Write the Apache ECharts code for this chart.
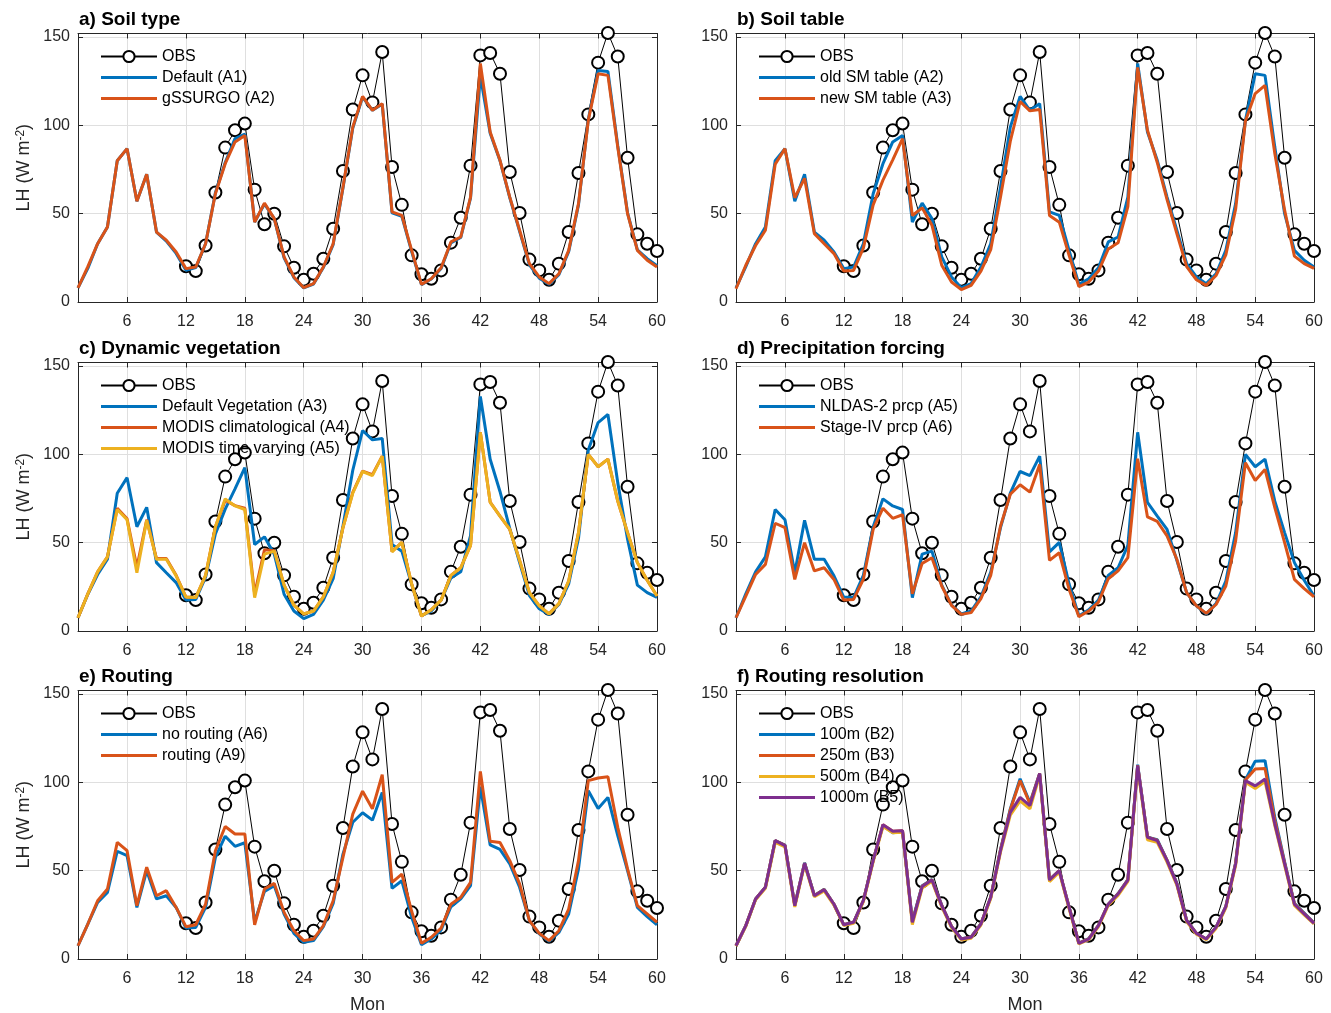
<!DOCTYPE html>
<html>
<head>
<meta charset="utf-8">
<script src="https://cdn.jsdelivr.net/npm/echarts@6/dist/echarts.min.js"></script>
<style>
  html, body { margin: 0; padding: 0; background: #fff; }
  #chart { width: 1331px; height: 1013px; }
</style>
</head>
<body>
<div id="chart"></div>
<script>
// months 1..60 on the x axis
const months = [];
for (let m = 1; m <= 60; m++) months.push(String(m));
const xTicks = [6, 12, 18, 24, 30, 36, 42, 48, 54, 60];
const yTicks = [0, 50, 100, 150];

// observations start at month 12
const OBS = [null, null, null, null, null, null, null, null, null, null,
  null, 20.2, 17.5, 32, 62, 87.4, 97.2, 101, 63.6, 44,
  50, 31.5, 19.4, 12.6, 16, 24.5, 41.5, 74.2, 109, 128.3,
  113, 141.5, 76.4, 55, 26.4, 15.7, 13.2, 17.9, 33.6, 47.7,
  77.2, 139.6, 141, 129.2, 73.6, 50.4, 24, 17.9, 12.6, 21.7,
  39.6, 73, 106.2, 135.5, 152.3, 139, 81.7, 38.3, 33, 28.9];

const A1 = [8, 19, 33, 42.5, 80, 86.8, 57, 72.3, 39.6, 34.5,
  27.5, 18, 19.5, 33, 61.8, 79, 92.5, 95, 45.3, 55.5,
  47.2, 25, 13.8, 8, 10.2, 19.5, 32.5, 64.5, 98.5, 116,
  108.5, 112, 50.5, 48.5, 28.5, 9.8, 13, 19, 33.5, 36.5,
  59, 128, 95.5, 80, 59, 40, 21, 13.5, 10, 15.5,
  28.5, 55, 103.5, 131, 130.5, 88.5, 50.5, 29.5, 24.5, 20.5];

const A2 = [8, 20, 33, 42.5, 80, 86.8, 57, 72.3, 39.6, 35,
  28.3, 18.9, 19.8, 33, 61.3, 78.3, 90.6, 94.3, 45.3, 56,
  47.2, 25.5, 14.2, 8.1, 10.4, 19.8, 33, 65, 99, 116.4,
  108.5, 112.3, 51, 49, 29.2, 10, 13.2, 19.4, 34, 36.8,
  59.4, 135, 96.2, 80.2, 59.4, 40.6, 21.7, 14.2, 10.4, 16,
  29.2, 55.7, 102.8, 129.2, 128.3, 87.7, 50, 29.2, 23.6, 19.8];

const A3 = [7.5, 20.8, 32, 40.6, 78, 86.8, 59, 70, 38.7, 33,
  27.4, 17.5, 17.9, 30.5, 55, 69, 80.5, 92.5, 49, 53.3,
  43.5, 20.8, 11.3, 7, 9.4, 17.5, 29.6, 59.4, 91, 113.5,
  108.2, 109, 49, 45.2, 26.4, 8.7, 11.3, 17.5, 30, 33.5,
  54, 132.8, 97.2, 79, 58, 38.7, 20, 12.6, 9.4, 15,
  26.7, 52.5, 102.5, 118, 122.6, 84, 52, 26, 21.7, 19];

const A4 = [7.5, 21, 33.5, 42, 69.5, 63.5, 36, 63, 41, 41,
  31.5, 19.2, 18.9, 31.5, 59, 74, 71, 69.5, 21, 46,
  45.5, 26, 14.6, 9.7, 11.3, 19.3, 33.2, 58.5, 78.5, 90.5,
  88.5, 99, 45, 50.2, 26.6, 8.5, 12, 17.5, 31.5, 35.8,
  48.5, 112.5, 73, 65, 57.5, 40, 21.7, 14.2, 9.7, 15.5,
  28.3, 55.7, 100, 93, 97.3, 73.5, 55.7, 38.7, 28.7, 19.8];

const A5 = [7.5, 21, 33.5, 42, 68.8, 63, 33, 62.7, 40.6, 40.6,
  31.2, 19.2, 18.9, 31.5, 59, 74.8, 70.8, 68.8, 18.9, 43.5,
  45.2, 26, 14.6, 9.7, 11.3, 19.3, 33.2, 58.5, 78, 90.3,
  88, 99, 44.8, 50.2, 26.6, 8.5, 12, 17.5, 31.5, 35.8,
  48.5, 112.5, 72.8, 65, 57.5, 40, 21.7, 14.2, 9.7, 15.5,
  28.3, 55.7, 100, 93, 97.3, 73.5, 55.7, 38.7, 28.7, 19.8];

const A6 = [7.5, 19.8, 32, 37.7, 61, 58.5, 29.2, 50, 34, 35.8,
  29.2, 17.5, 17.9, 29.2, 57.5, 69.5, 63.8, 65.8, 21, 38.3,
  41.5, 25.5, 14.5, 9.4, 10.4, 18.3, 31.5, 59.4, 77.4, 82.8,
  78.6, 94.3, 40, 44.3, 23.6, 8.1, 11.3, 16.4, 29.6, 34,
  41.5, 97.5, 64.6, 62, 53.8, 40.6, 21.7, 14.2, 10, 15,
  25.5, 51, 95.3, 85.2, 91.5, 69.8, 50, 29.2, 24, 19.4];

const A9 = [7.5, 19.8, 33, 39.6, 66, 61.3, 30.2, 52, 35.8, 38.7,
  29.2, 18.3, 19.4, 31, 61.3, 75, 70.8, 70.8, 19.4, 39.6,
  42.8, 26.4, 16, 10.4, 11.3, 18.9, 33, 57.5, 82, 95,
  85, 104.3, 43.4, 48, 27, 8.9, 12.3, 17.5, 31, 34.9,
  43.4, 106.2, 66.6, 66, 55.7, 42.5, 21.7, 14.5, 10.4, 16,
  28.3, 55.7, 101, 102.5, 103.2, 74.5, 51, 30.2, 25.5, 20.8];

const B2 = [7.5, 18.9, 34, 40.6, 67, 64.5, 30.5, 54.5, 36, 39.5,
  31, 19.4, 20.8, 33, 56, 75.5, 71.5, 72, 21.5, 41.5,
  45, 30.5, 18.5, 11.5, 12.5, 20, 35, 62, 85, 102,
  88.5, 105, 45, 50, 29.5, 9, 11.5, 19, 31, 37,
  45, 110, 69, 67.5, 56, 43, 22, 14.5, 11.3, 18,
  29.8, 54.5, 101.5, 112, 112.3, 80, 55, 31.5, 26, 20.5];

const B3 = [7.5, 18.9, 34, 40.6, 67, 64.3, 30.3, 54.3, 35.9, 39.3,
  31, 19.4, 20.8, 33, 55.8, 76, 72.3, 72.6, 21, 41.2,
  44.8, 30.3, 18.4, 11.4, 12.4, 19.9, 35, 61.8, 84.5, 101,
  88, 105, 44.8, 50, 29.3, 9, 11.4, 19, 31, 36.9,
  44.8, 109.6, 69, 67.2, 55.8, 42.6, 21.8, 14.5, 11.3, 17.9,
  29.7, 54.2, 101.3, 107.5, 107.8, 78.5, 54.5, 31.2, 25.7, 20.3];

const B4 = [7.3, 18.5, 33.5, 40, 66, 63.5, 29.5, 53.5, 35.2, 38.5,
  30.5, 19, 20.2, 32.5, 55, 75, 71.5, 71.8, 19.5, 40.2,
  44, 29.5, 17.8, 10.8, 11.8, 19.2, 34.2, 60.5, 81.5, 89.5,
  85, 104, 43.8, 49.2, 28.5, 8.5, 10.9, 18.3, 30.4, 36,
  44, 108.5, 67.5, 66, 54.8, 41.8, 21.2, 14, 10.9, 17.3,
  29, 53, 100, 96.5, 100.5, 75.5, 53, 30.3, 25, 19.8];

const B5 = [7.5, 18.9, 34, 40.6, 67, 64.2, 30.2, 54.2, 35.8, 39.2,
  31, 19.4, 20.8, 33, 55.7, 76, 72.3, 72.6, 20.8, 41,
  44.7, 30.2, 18.3, 11.3, 12.3, 19.8, 34.9, 61.3, 83, 91.5,
  86.8, 105, 44.7, 50, 29.2, 8.9, 11.3, 18.9, 31, 36.8,
  44.7, 109.4, 68.9, 67, 55.7, 42.5, 21.7, 14.5, 11.3, 17.9,
  29.6, 53.8, 101, 98, 101.9, 76.4, 53.8, 31, 25.5, 20.2];

// matlab default colours
const BLUE = '#0072BD', ORANGE = '#D95319', YELLOW = '#EDB120', PURPLE = '#7E2F8E';
const FONT = '"Liberation Sans", Arial, Helvetica, sans-serif';
const AX = '#262626', GRIDC = '#dfdfdf';
const LINE_ICON = 'path://M0,0H20V1H0Z';

const colLeft = [78, 736], colWidth = [579, 578];
const rowTop = [33.5, 362.5, 690.5], rowHeight = 268.5;

const panels = [
  { title: 'a) Soil type', lines: [['Default (A1)', A1, BLUE], ['gSSURGO (A2)', A2, ORANGE]] },
  { title: 'b) Soil table', lines: [['old SM table (A2)', A2, BLUE], ['new SM table (A3)', A3, ORANGE]] },
  { title: 'c) Dynamic vegetation', lines: [['Default Vegetation (A3)', A3, BLUE], ['MODIS climatological (A4)', A4, ORANGE], ['MODIS time varying (A5)', A5, YELLOW]] },
  { title: 'd) Precipitation forcing', lines: [['NLDAS-2 prcp (A5)', A5, BLUE], ['Stage-IV prcp (A6)', A6, ORANGE]] },
  { title: 'e) Routing', lines: [['no routing (A6)', A6, BLUE], ['routing (A9)', A9, ORANGE]] },
  { title: 'f) Routing resolution', lines: [['100m (B2)', B2, BLUE], ['250m (B3)', B3, ORANGE], ['500m (B4)', B4, YELLOW], ['1000m (B5)', B5, PURPLE]] }
];

const isTick = (idx) => xTicks.indexOf(idx + 1) >= 0;

const grid = [], xAxis = [], yAxis = [], series = [], legend = [], title = [];

panels.forEach((p, i) => {
  const col = i % 2, row = Math.floor(i / 2);
  const left = colLeft[col], top = rowTop[row];
  grid.push({ left: left, top: top, width: colWidth[col], height: rowHeight,
    containLabel: false, outerBoundsMode: 'none' });

  // bottom + mirrored top x axes
  xAxis.push({
    type: 'category', gridIndex: i, data: months, boundaryGap: false, position: 'bottom',
    axisLine: { onZero: false, lineStyle: { color: AX, width: 1 } },
    axisTick: { inside: true, length: 5, interval: isTick, lineStyle: { color: AX } },
    axisLabel: { interval: isTick, color: AX, fontSize: 16, fontFamily: FONT, margin: 12 },
    splitLine: { show: true, interval: isTick, lineStyle: { color: GRIDC, width: 1 } },
    name: row === 2 ? 'Mon' : '', nameLocation: 'middle', nameGap: 37,
    nameTextStyle: { color: AX, fontSize: 18, fontFamily: FONT }
  });
  xAxis.push({
    type: 'category', gridIndex: i, data: months, boundaryGap: false, position: 'top',
    axisLine: { onZero: false, lineStyle: { color: AX, width: 1 } },
    axisTick: { inside: true, length: 5, interval: isTick, lineStyle: { color: AX } },
    axisLabel: { show: false }, splitLine: { show: false }
  });

  // left + mirrored right y axes
  yAxis.push({
    type: 'value', gridIndex: i, min: 0, max: 152, interval: 50, position: 'left',
    axisLine: { show: true, onZero: false, lineStyle: { color: AX, width: 1 } },
    axisTick: { show: true, inside: true, length: 5, lineStyle: { color: AX } },
    axisLabel: { color: AX, fontSize: 16, fontFamily: FONT, margin: 8,
      formatter: (v) => (yTicks.indexOf(v) >= 0 ? String(v) : '') },
    splitLine: { show: true, lineStyle: { color: GRIDC, width: 1 } },
    name: col === 0 ? '{a|LH (W m}{s|-2}{a|)}' : '',
    nameLocation: 'middle', nameRotate: 90, nameGap: 45,
    nameTextStyle: { rich: {
      a: { fontSize: 18, fontFamily: FONT, color: AX },
      s: { fontSize: 12, fontFamily: FONT, color: AX, verticalAlign: 'top' }
    } }
  });
  yAxis.push({
    type: 'value', gridIndex: i, min: 0, max: 152, interval: 50, position: 'right',
    axisLine: { show: true, onZero: false, lineStyle: { color: AX, width: 1 } },
    axisTick: { show: true, inside: true, length: 5, lineStyle: { color: AX } },
    axisLabel: { show: false }, splitLine: { show: false }
  });

  series.push({
    type: 'line', name: 'OBS', xAxisIndex: 2 * i, yAxisIndex: 2 * i, data: OBS,
    symbol: 'emptyCircle', symbolSize: 12, showAllSymbol: true, connectNulls: false, clip: false,
    lineStyle: { color: '#000', width: 1 },
    itemStyle: { color: '#000', borderWidth: 1.1 },
    z: 2
  });
  p.lines.forEach(([name, vals, color]) => {
    series.push({
      type: 'line', name: name, xAxisIndex: 2 * i, yAxisIndex: 2 * i, data: vals,
      symbol: 'none', lineStyle: { color: color, width: 3 }, itemStyle: { color: color },
      z: 3
    });
  });

  legend.push({
    left: left + 22, top: top + 15, orient: 'vertical', padding: 0,
    itemWidth: 56, itemHeight: 14, itemGap: 5, selectedMode: false,
    textStyle: { fontSize: 16, color: '#000', fontFamily: FONT },
    data: [{ name: 'OBS' }].concat(p.lines.map((l) => ({ name: l[0], icon: LINE_ICON })))
  });

  title.push({
    text: p.title, left: left + 1, top: top - 23, padding: 0,
    textStyle: { fontSize: 19, fontWeight: 'bold', color: '#000', fontFamily: FONT }
  });
});

const chart = echarts.init(document.getElementById('chart'), null, { renderer: 'canvas' });
chart.setOption({
  animation: false,
  backgroundColor: '#fff',
  title: title,
  legend: legend,
  grid: grid,
  xAxis: xAxis,
  yAxis: yAxis,
  series: series
});
</script>
</body>
</html>
